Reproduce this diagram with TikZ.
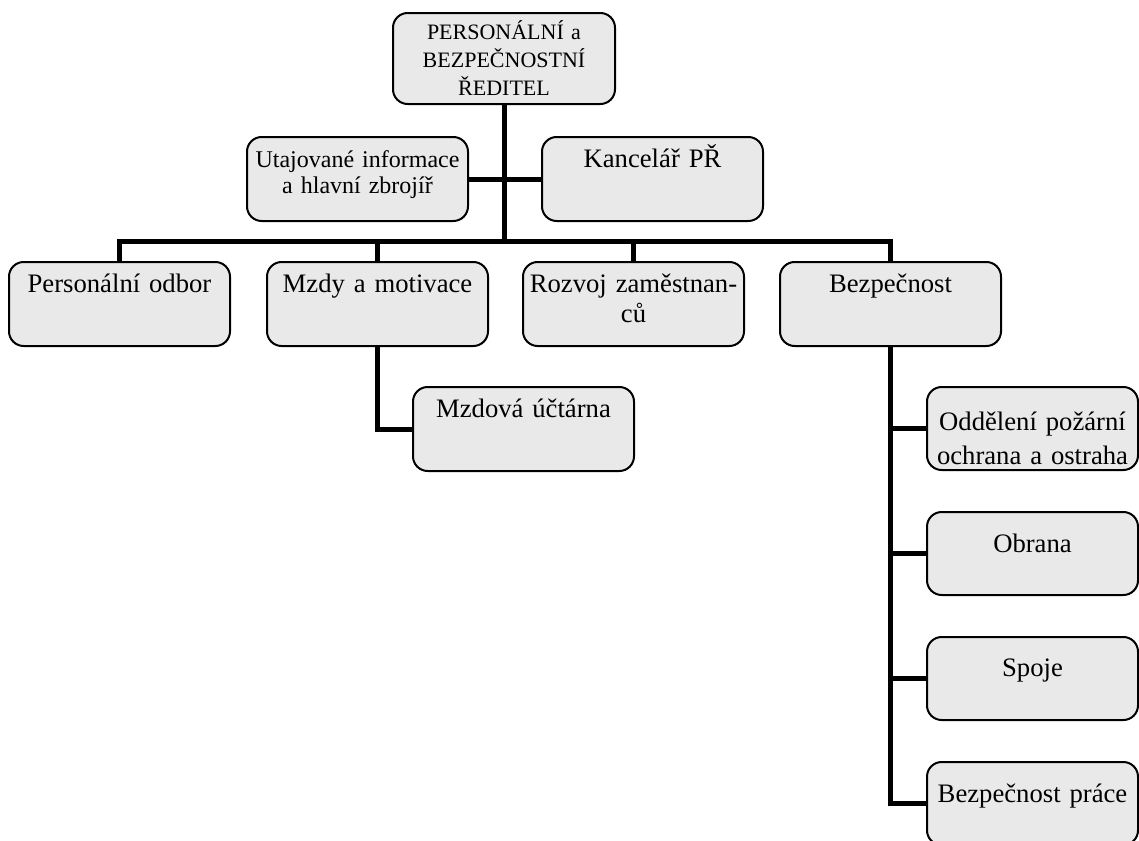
\documentclass[tikz,border=0pt]{standalone}
\usepackage{fontspec}
\setmainfont{Liberation Serif}
\definecolor{boxgray}{RGB}{233,233,233}
\tikzset{
    unitbox/.style n args={3}{draw,line width=1.5pt,fill=boxgray,rounded corners=11pt,
        anchor=north west,inner sep=0pt,outer sep=0pt,align=center,
        text width=#1,text height=#2,text depth=#3},
    bigfont/.style={font=\fontsize{20}{22.5}\selectfont},
}
\begin{document}
\begin{tikzpicture}[x=0.75pt,y=-0.75pt]
        \useasboundingbox (0,0) rectangle (1139,840);
        \clip (0,0) rectangle (1139,840);
        \begin{scope}[bigfont]
            \node[unitbox={166.5pt}{19.5pt}{48.75pt},font=\fontsize{16.5}{21}\selectfont] (dir) at (393,13)
                {PERSONÁLNÍ a\\BEZPEČNOSTNÍ\\ŘEDITEL};
            \node[unitbox={165.75pt}{22.5pt}{40.5pt},font=\fontsize{18}{20}\selectfont] (utaj) at (247,137)
                {Utajované informace\\a hlavní zbrojíř};
            \node[unitbox={165.75pt}{22.5pt}{40.5pt}] (kanc) at (542,137) {Kancelář PŘ};

            \node[unitbox={165.75pt}{22.5pt}{40.5pt}] (pers) at (9,262)   {Personální odbor};
            \node[unitbox={165.75pt}{22.5pt}{40.5pt}] (mzdy) at (267,262) {Mzdy a motivace};
            \node[unitbox={165.75pt}{22.5pt}{40.5pt}] (rozv) at (523,262) {Rozvoj zaměstnan-\\ců};
            \node[unitbox={165.75pt}{22.5pt}{40.5pt}] (bezp) at (780,262) {Bezpečnost};

            \node[unitbox={165.75pt}{22.5pt}{40.5pt}] (ucet) at (413,387) {Mzdová účtárna};

            \node[unitbox={158.25pt}{32.25pt}{30pt},font=\fontsize{20}{26}\selectfont] (pozar) at (927,387)
                {Oddělení požární\\ochrana a ostraha};
            \node[unitbox={158.25pt}{30pt}{32.25pt}]   (obrana) at (927,512) {Obrana};
            \node[unitbox={158.25pt}{29.25pt}{33pt}]   (spoje)  at (927,637) {Spoje};
            \node[unitbox={158.25pt}{30pt}{32.25pt}]   (prace)  at (927,762) {Bezpečnost práce};
        \end{scope}
        \coordinate (bus) at (504,241);
        \begin{scope}[line width=3.75pt,line join=miter]
            \draw (dir.south)--(bus);
            \draw (utaj.east)--(kanc.west);
            \draw (pers.north) |- (bus) -| (bezp.north);
            \foreach \n in {mzdy,rozv} {\draw (\n.north)--(\n.north |- bus);}
            \draw (mzdy.south) |- (ucet.west);
            \draw (bezp.south) |- (prace.west);
            \foreach \n in {pozar,obrana,spoje} {\draw (bezp.south |- \n.west)--(\n.west);}
        \end{scope}
    \end{tikzpicture}
\end{document}
